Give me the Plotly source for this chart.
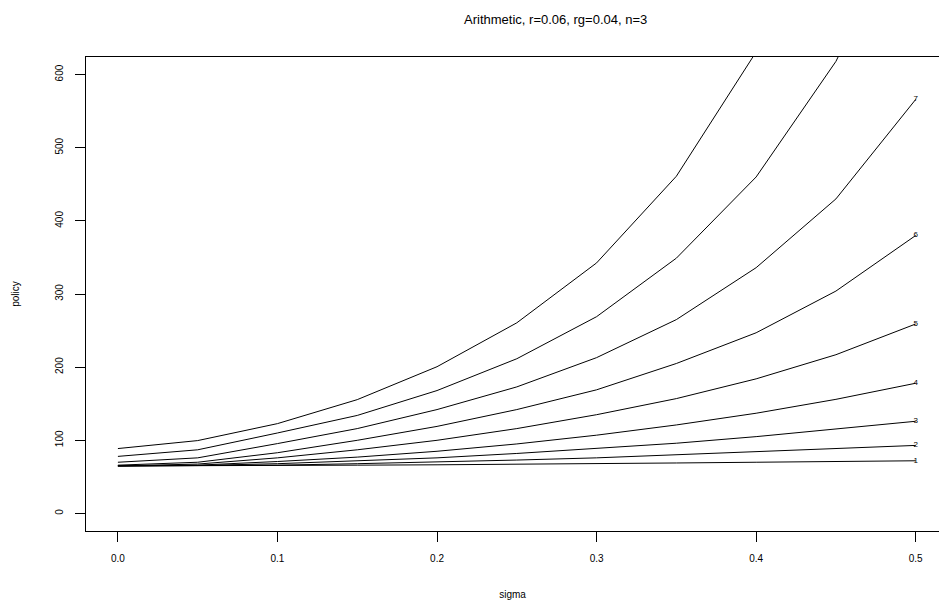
import plotly.graph_objects as go

sigma = [0.0, 0.05, 0.1, 0.15, 0.2, 0.25, 0.3, 0.35, 0.4, 0.45, 0.5]

line1 = [65, 65, 65.5, 66, 66.5, 67, 68, 69, 70, 71, 72]
line2 = [65, 65.2, 66, 68, 70, 73, 76, 80, 84, 88, 93]
line3 = [65, 65.5, 68, 72, 76, 82, 89, 96, 105, 115, 126]
line4 = [65, 66, 71, 77, 85, 95, 107, 121, 137, 156, 178]
line5 = [65, 67.5, 76, 87, 100, 116, 135, 157, 184, 217, 259]
line6 = [66, 70, 83, 100, 119, 142, 169, 205, 247, 304, 380]
line7 = [70, 76, 95.5, 116, 142, 173, 213, 265, 336, 430, 566]
line8 = [78, 87, 110, 134, 168, 211.5, 269, 349, 460, 618, 840]
line9 = [88.7, 99.6, 122.8, 155.6, 200.6, 260.6, 342.5, 461, 631, 870, 1200]

series = [line1, line2, line3, line4, line5, line6, line7, line8, line9]
end_labels = ["1", "2", "3", "4", "5", "6", "7"]

x_ticks = [0.0, 0.1, 0.2, 0.3, 0.4, 0.5]
x_tick_text = ["0.0", "0.1", "0.2", "0.3", "0.4", "0.5"]
y_ticks = [0, 100, 200, 300, 400, 500, 600]
y_tick_text = ["0", "100", "200", "300", "400", "500", "600"]

FONT = "Liberation Sans, Arial, Helvetica, sans-serif"

fig = go.Figure()
for s in series:
    fig.add_trace(go.Scatter(x=sigma, y=s, mode="lines",
                             line=dict(color="black", width=1),
                             hoverinfo="skip", showlegend=False))

fig.add_trace(go.Scatter(
    x=[sigma[-1]] * len(end_labels),
    y=[s[-1] for s in series[:len(end_labels)]],
    mode="text", text=end_labels, textposition="middle center",
    textfont=dict(size=8, color="black", family=FONT),
    hoverinfo="skip", showlegend=False, cliponaxis=False))

fig.update_layout(
    width=939, height=607,
    margin=dict(l=86, r=0, t=57, b=76, pad=0),
    paper_bgcolor="white", plot_bgcolor="white",
    font=dict(family=FONT, color="black", size=11),
    title=dict(text="Arithmetic, r=0.06, rg=0.04, n=3",
               x=517 / 939, xanchor="center", xref="paper",
               y=1 - 19 / 607, yanchor="middle", yref="container",
               font=dict(size=13, color="black", family=FONT)),
    xaxis=dict(range=[-0.02, 0.5146], tickvals=x_ticks, ticktext=x_tick_text,
               showgrid=False, zeroline=False, showline=True, linecolor="black",
               linewidth=1, mirror=True, ticks="outside", ticklen=10,
               tickcolor="black", tickwidth=1, ticklabelstandoff=8,
               tickfont=dict(size=10),
               title=dict(text="sigma", standoff=27, font=dict(size=10))),
    yaxis=dict(range=[-24, 624], tickvals=y_ticks, ticktext=y_tick_text,
               showgrid=False, zeroline=False, showline=True, linecolor="black",
               linewidth=1, mirror=False, ticks="outside", ticklen=10,
               tickcolor="black", tickwidth=1, tickangle=-90, ticklabelstandoff=8,
               tickfont=dict(size=10),
               title=dict(text="policy", standoff=32, font=dict(size=10))),
)

fig.write_html("out.html")
